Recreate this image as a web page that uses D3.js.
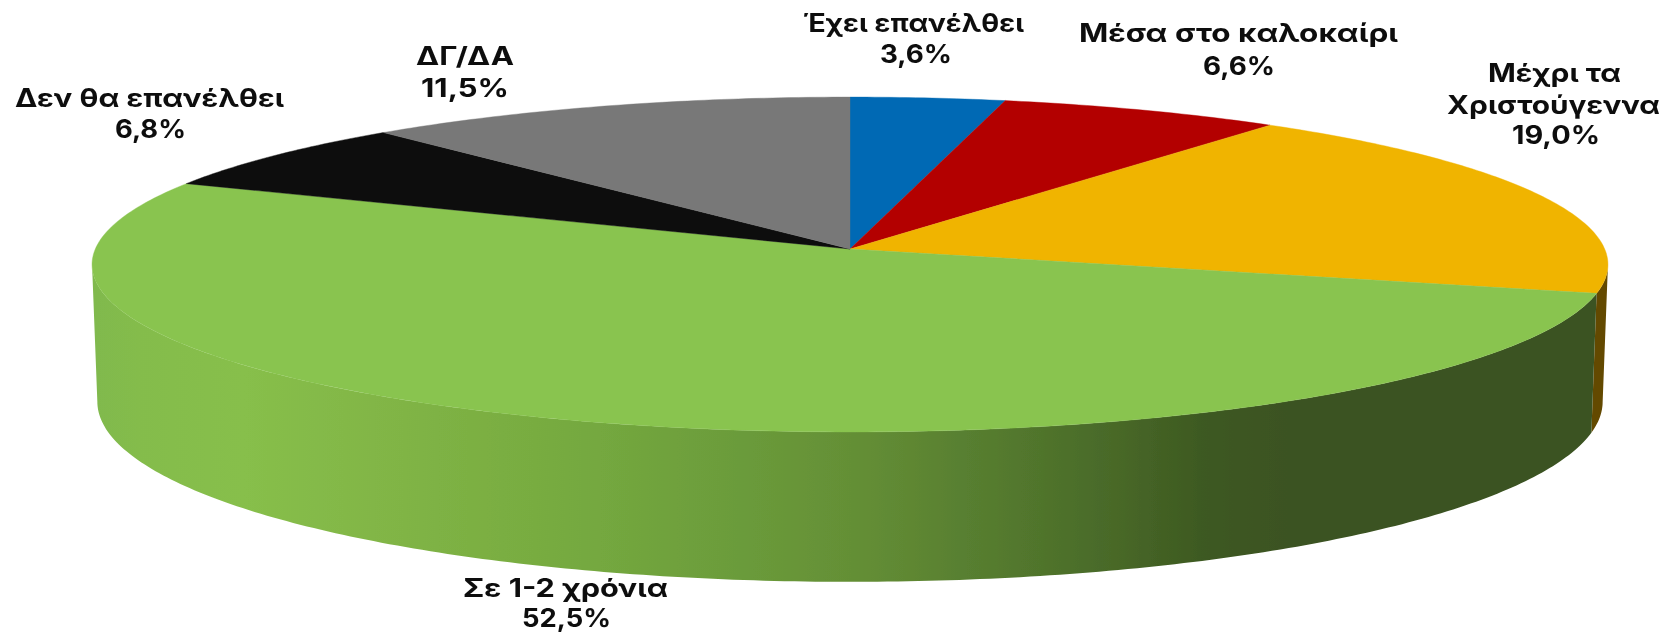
<!DOCTYPE html>
<html>
<head>
<meta charset="utf-8">
<style>
  html, body { margin: 0; padding: 0; background: #fff; }
  svg { display: block; }
  .label { font-family: Inter, "Noto Sans", sans-serif; font-weight: 700; font-size: 25px; fill: #0d0d0d; }
</style>
</head>
<body>
<svg id="chart"></svg>
<script src="https://cdn.jsdelivr.net/npm/d3@7"></script>
<script>
const categories = ["Έχει επανέλθει", "Μέσα στο καλοκαίρι", "Μέχρι τα\nΧριστούγεννα", "Σε 1-2 χρόνια", "Δεν θα επανέλθει", "ΔΓ/ΔΑ"];
const shares = [3.6, 6.6, 19.0, 52.5, 6.8, 11.5];
const topColors = ["#0069b4", "#b30000", "#f0b400", "#89c44f", "#0d0d0d", "#787878"];

const width = 1665, height = 633;

/* perspective of the tilted disc */
const cx = 850, cy = 249;
const radiusX = 754.7, radiusY = 166, tilt = 0.0926;
const wallDepth = 136, wallShrink = 0.993;

/* left edge, right edge and baseline of every label line, one list per slice */
const labelBoxes = [
  [[803, 1024, 32], [880, 952, 63]],
  [[1079, 1398, 42], [1203, 1275, 75]],
  [[1488, 1621, 82], [1447, 1660, 114], [1512, 1600, 144]],
  [[463, 668, 597], [522, 611, 627]],
  [[15, 284, 107], [115, 186, 138]],
  [[416, 514, 65], [421, 509, 97]]
];

function topPoint(angle) {
  let u = Math.sin(angle), v = Math.cos(angle);
  let w = 1 + tilt * v;
  return [cx + radiusX * u / w, cy - radiusY * v / w];
}

function bottomPoint(angle) {
  let p = topPoint(angle);
  return [cx + (p[0] - cx) * wallShrink, p[1] + wallDepth / (1 + tilt * Math.cos(angle))];
}

function rimAngles(start, end) {
  let steps = Math.max(8, Math.ceil((end - start) * 80));
  return d3.range(steps + 1).map((i) => start + (end - start) * i / steps);
}

let svg = d3.select("#chart").attr("width", width).attr("height", height);
let defs = svg.append("defs");

defs.append("filter").attr("id", "soft")
    .append("feGaussianBlur").attr("stdDeviation", 0.5);

let wallGradient = defs.append("linearGradient")
    .attr("id", "greenWall")
    .attr("gradientUnits", "userSpaceOnUse")
    .attr("x1", 92).attr("x2", 1608).attr("y1", 0).attr("y2", 0);
[[0, "#80b94d"], [0.03, "#84bc4c"], [0.1, "#87bf4b"], [0.185, "#82b646"], [0.335, "#74a83f"], [0.436, "#6a9a3a"],
 [0.513, "#638d35"], [0.6, "#547a2e"], [0.665, "#4a6b29"], [0.73, "#3e5a21"], [0.79, "#3b5220"], [1, "#3b5220"]]
  .forEach((s) => wallGradient.append("stop").attr("offset", s[0]).attr("stop-color", s[1]));

const wallFill = (d) => d.index === 3 ? "url(#greenWall)" : d.index === 2 ? "#634800" : d3.color(topColors[d.index]).darker(1.5);

let pie = d3.pie().sort(null).value((d) => d)(shares);
let line = d3.line();

/* only the front of the rim shows a wall, it runs between the two widest points */
const wallStart = Math.acos(-tilt), wallEnd = 2 * Math.PI - wallStart;
let walls = pie.filter((d) => d.endAngle > wallStart && d.startAngle < wallEnd);

let disc = svg.append("g").attr("filter", "url(#soft)");

disc.selectAll("path.wall")
    .data(walls)
    .enter().append("path")
    .attr("class", "wall")
    .attr("fill", wallFill)
    .attr("d", (d) => {
      let angles = rimAngles(Math.max(d.startAngle, wallStart), Math.min(d.endAngle, wallEnd));
      return line(angles.map(topPoint).concat(angles.slice().reverse().map(bottomPoint))) + "Z";
    });

disc.selectAll("path.slice")
    .data(pie)
    .enter().append("path")
    .attr("class", "slice")
    .attr("fill", (d, i) => topColors[i])
    .attr("stroke", (d, i) => topColors[i])
    .attr("stroke-width", 0.4)
    .attr("d", (d) => line([[cx, cy]].concat(rimAngles(d.startAngle, d.endAngle).map(topPoint))) + "Z");

/* labels: every line is fitted to the width it has in the picture */
let labelLines = [];
categories.forEach((name, i) => {
  let rows = name.split("\n").concat(shares[i].toFixed(1).replace(".", ",") + "%");
  rows.forEach((text, r) => labelLines.push({ text: text, box: labelBoxes[i][r] }));
});

svg.append("g").attr("filter", "url(#soft)")
    .selectAll("text")
    .data(labelLines)
    .enter().append("text")
    .attr("class", "label")
    .attr("x", (d) => d.box[0])
    .attr("y", (d) => d.box[2])
    .attr("textLength", (d) => d.box[1] - d.box[0])
    .attr("lengthAdjust", "spacingAndGlyphs")
    .text((d) => d.text);
</script>
</body>
</html>
